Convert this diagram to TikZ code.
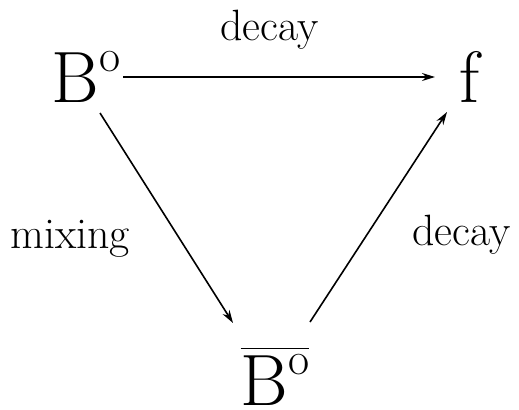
\documentclass[tikz,border=0pt]{standalone}
\usetikzlibrary{arrows.meta}
\newcommand{\supo}{\raisebox{31bp}{\fontsize{46}{46}\selectfont o}}
\begin{document}
\begin{tikzpicture}[x=1bp,y=-1bp,
  state/.style={inner sep=0pt, anchor=base, font=\fontsize{73}{80}\selectfont},
  lab/.style={inner sep=0pt, anchor=base, font=\fontsize{44}{50}\selectfont},
  arr/.style={line width=1.6bp, -{Stealth[length=13bp,width=8bp]}}]
\useasboundingbox (0,0) rectangle (519,409);
\node[state] (B0) at (86,102) {B\supo};
\node[state] (f) at (469.5,102) {f};
\node[state] (Bb) at (275,405) {$\overline{\hbox{\vrule height 55bp width 0pt B\supo}}$};
\node[lab] (l1) at (269.5,40) {decay};
\node[lab] (l2) at (70,248) {mixing};
\node[lab] (l3) at (461.5,245) {decay};
\draw[arr] ([xshift=37bp,yshift=25bp]B0.base) -- ([xshift=-34.5bp,yshift=25bp]f.base);
\draw[arr] ([xshift=14bp,yshift=-11bp]B0.base) -- ([xshift=-42bp,yshift=82bp]Bb.base);
\draw[arr] ([xshift=35bp,yshift=83bp]Bb.base) -- ([xshift=-22.5bp,yshift=-10bp]f.base);
\end{tikzpicture}
\end{document}
